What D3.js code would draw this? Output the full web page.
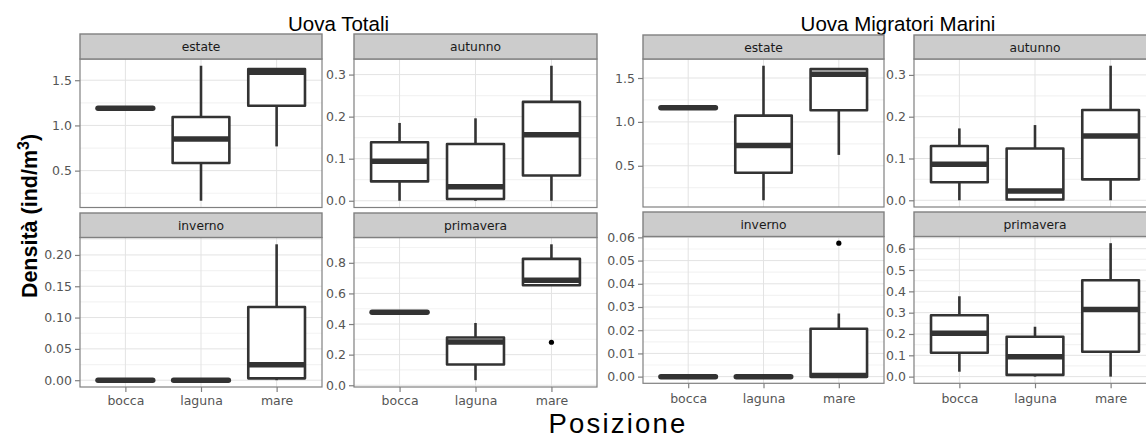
<!DOCTYPE html>
<html><head><meta charset="utf-8">
<script src="https://cdn.jsdelivr.net/npm/d3@7"></script>
<style>body{margin:0;background:#fff}svg{display:block}</style>
</head><body><svg id="c" width="1146" height="439"></svg>
<script>
// ---------------- DATA ----------------
const categories = ["bocca", "laguna", "mare"];
const seasons = ["estate", "autunno", "inverno", "primavera"];
const groupTitles = ["Uova Totali", "Uova Migratori Marini"];
const xTitle = "Posizione";
// box stats per category: [lower whisker, q1, median, q3, upper whisker]
const totaliEstate    = [[1.19,1.19,1.19,1.19,1.19],[0.167,0.584,0.85,1.093,1.66],[0.768,1.218,1.587,1.624,1.624]];
const totaliAutunno   = [[0,0.046,0.094,0.139,0.185],[0,0.004,0.033,0.135,0.196],[0,0.06,0.157,0.235,0.321]];
const totaliInverno   = [[0,0,0,0,0],[0,0,0,0,0],[0,0.003,0.0245,0.117,0.217]];
const totaliPrimavera = [[0.477,0.477,0.477,0.477,0.477],[0.033,0.136,0.283,0.312,0.407],[0.653,0.653,0.686,0.826,0.921]];
const totaliOutliers  = {primavera: [[], [], [0.281]]};
const migratoriEstate    = [[1.16,1.16,1.16,1.16,1.16],[0.107,0.421,0.731,1.072,1.64],[0.624,1.133,1.544,1.601,1.601]];
const migratoriAutunno   = [[0,0.043,0.086,0.13,0.172],[0,0.002,0.022,0.124,0.18],[0,0.05,0.154,0.216,0.322]];
const migratoriInverno   = [[0,0,0,0,0],[0,0,0,0,0],[0,0,0.0005,0.0206,0.0272]];
const migratoriPrimavera = [[0.023,0.112,0.203,0.288,0.377],[0,0.008,0.093,0.187,0.234],[0,0.117,0.315,0.452,0.626]];
const migratoriOutliers  = {inverno: [[], [], [0.0575]]};
// y tick values per panel
const totaliTicks = {estate:[0.5,1.0,1.5], autunno:[0,0.1,0.2,0.3], inverno:[0,0.05,0.10,0.15,0.20], primavera:[0,0.2,0.4,0.6,0.8]};
const migratoriTicks = {estate:[0.5,1.0,1.5], autunno:[0,0.1,0.2,0.3], inverno:[0,0.01,0.02,0.03,0.04,0.05,0.06], primavera:[0,0.1,0.2,0.3,0.4,0.5,0.6]};
const tickDecimals = {estate:1, autunno:1, primavera:1, totaliInverno:2, migratoriInverno:2};

// ---------------- LAYOUT ----------------
const groups = [
  {title: groupTitles[0], titleX: 338.5,
   data: {estate: totaliEstate, autunno: totaliAutunno, inverno: totaliInverno, primavera: totaliPrimavera},
   outliers: totaliOutliers, ticks: totaliTicks, key: "totali", xPad: 4,
   cols: [[80, 322], [354, 597]],
   rows: [{strip:[34,59], plot:[59,207.5]}, {strip:[213,237.5], plot:[237.5,387]}]},
  {title: groupTitles[1], titleX: 898,
   data: {estate: migratoriEstate, autunno: migratoriAutunno, inverno: migratoriInverno, primavera: migratoriPrimavera},
   outliers: migratoriOutliers, ticks: migratoriTicks, key: "migratori", xPad: 6,
   cols: [[643, 884], [914, 1156]],
   rows: [{strip:[35,59], plot:[59,207]}, {strip:[212,236.5], plot:[236.5,383.3]}]}
];

const svg = d3.select("#c");
const INK = "#333333", GRID = "#e3e3e3", GRIDMINOR = "#f3f3f3", BORDER = "#808080";
const tickFont = "'DejaVu Sans', sans-serif";

groups.forEach(g => {
  svg.append("text").attr("x", g.titleX).attr("y", 30.5).attr("text-anchor", "middle")
    .style("font-family", "'Liberation Sans', Arial, sans-serif").style("font-size", "20.5px").attr("fill", "#000")
    .text(g.title);

  seasons.forEach((s, si) => {
    const r = g.rows[Math.floor(si / 2)], c = g.cols[si % 2];
    const stats = g.data[s];
    const outs = (g.outliers[s]) || [[], [], []];
    let vals = [];
    stats.forEach((d, i) => { vals.push(...d, ...outs[i]); });
    const lo = d3.min(vals), hi = d3.max(vals), pad = (hi - lo) * 0.05;
    const y = d3.scaleLinear().domain([lo - pad, hi + pad]).range([r.plot[1], r.plot[0]]);
    const x = d3.scalePoint().domain(categories).range(c).padding(0.6);
    const bw = x.step() * 0.75;
    const pg = svg.append("g");
    const w = c[1] - c[0], h = r.plot[1] - r.plot[0];

    pg.append("rect").attr("x", c[0]).attr("y", r.plot[0]).attr("width", w).attr("height", h).attr("fill", "#fff");
    const ticks = g.ticks[s];
    const step = ticks[1] - ticks[0];
    const minor = [];
    for (let v = ticks[0] - step / 2; v <= ticks[ticks.length - 1] + step; v += step) minor.push(v);
    const dom = y.domain();
    pg.selectAll(".mn").data(minor.filter(v => v > dom[0] && v < dom[1])).enter().append("line")
      .attr("x1", c[0]).attr("x2", c[1]).attr("y1", d => y(d)).attr("y2", d => y(d))
      .attr("stroke", GRIDMINOR).attr("stroke-width", 1.2);
    pg.selectAll(".mj").data(ticks).enter().append("line")
      .attr("x1", c[0]).attr("x2", c[1]).attr("y1", d => y(d)).attr("y2", d => y(d))
      .attr("stroke", GRID).attr("stroke-width", 1);
    pg.selectAll(".vx").data(categories).enter().append("line")
      .attr("x1", d => x(d)).attr("x2", d => x(d)).attr("y1", r.plot[0]).attr("y2", r.plot[1])
      .attr("stroke", GRID).attr("stroke-width", 1);

    // boxes
    categories.forEach((cat, i) => {
      const [wl, q1, md, q3, wh] = stats[i];
      const cx = x(cat);
      if (wh > q3) pg.append("line").attr("x1", cx).attr("x2", cx).attr("y1", y(wh)).attr("y2", y(q3)).attr("stroke", INK).attr("stroke-width", 2.6);
      if (wl < q1) pg.append("line").attr("x1", cx).attr("x2", cx).attr("y1", y(q1)).attr("y2", y(wl)).attr("stroke", INK).attr("stroke-width", 2.6);
      const p = d3.path();
      p.moveTo(cx - bw / 2, y(q3)); p.lineTo(cx + bw / 2, y(q3)); p.lineTo(cx + bw / 2, y(q1)); p.lineTo(cx - bw / 2, y(q1)); p.closePath();
      pg.append("path").attr("d", p.toString()).attr("fill", "#fff").attr("stroke", INK).attr("stroke-width", 2.6).attr("stroke-linejoin", "round");
      const flat = q3 - q1 === 0;
      pg.append("line").attr("x1", cx - bw / 2 + (flat ? 1 : 0)).attr("x2", cx + bw / 2 - (flat ? 1 : 0)).attr("y1", y(md)).attr("y2", y(md))
        .attr("stroke", INK).attr("stroke-width", 5.5).attr("stroke-linecap", flat ? "round" : "butt");
      outs[i].forEach(o => pg.append("circle").attr("cx", cx).attr("cy", y(o)).attr("r", 2.6).attr("fill", "#000"));
    });

    pg.append("rect").attr("x", c[0]).attr("y", r.plot[0]).attr("width", w).attr("height", h)
      .attr("fill", "none").attr("stroke", BORDER).attr("stroke-width", 1.2);

    // strip
    pg.append("rect").attr("x", c[0]).attr("y", r.strip[0]).attr("width", w).attr("height", r.strip[1] - r.strip[0])
      .attr("fill", "#cccccc").attr("stroke", BORDER).attr("stroke-width", 1.4);
    pg.append("text").attr("x", (c[0] + c[1]) / 2).attr("y", (r.strip[0] + r.strip[1]) / 2 + 4.5)
      .attr("text-anchor", "middle").style("font-family", tickFont).style("font-size", "12.3px").attr("fill", "#1a1a1a").text(s);

    // y axis
    const dec = s === "inverno" ? tickDecimals[g.key + "Inverno"] : tickDecimals[s];
    const ya = pg.append("g").attr("transform", `translate(${c[0]},0)`)
      .call(d3.axisLeft(y).tickValues(ticks).tickSize(5).tickPadding(3).tickFormat(d3.format("." + dec + "f")));
    ya.select(".domain").remove();
    ya.selectAll("line").attr("stroke", BORDER).attr("stroke-width", 1.2);
    ya.selectAll("text").style("font-family", tickFont).style("font-size", "12.5px").attr("fill", "#555");

    if (si >= 2) {
      const xa = pg.append("g").attr("transform", `translate(0,${r.plot[1]})`)
        .call(d3.axisBottom(x).tickSize(5).tickPadding(g.xPad));
      xa.select(".domain").remove();
      xa.selectAll("line").attr("stroke", BORDER).attr("stroke-width", 1.2);
      xa.selectAll("text").style("font-family", tickFont).style("font-size", "12.5px").attr("fill", "#555");
    }
  });
});

// y axis title
const yl = svg.append("text").attr("transform", "translate(37,216) rotate(-90)").attr("text-anchor", "middle")
  .style("font-family", "'Liberation Sans', Arial, sans-serif").style("font-size", "21.5px").style("font-weight", "bold").attr("fill", "#000");
yl.append("tspan").text("Densità (ind/m");
yl.append("tspan").attr("dy", -8).style("font-size", "16px").text("3");
yl.append("tspan").attr("dy", 8).text(")");

svg.append("text").attr("x", 618).attr("y", 433.3).attr("text-anchor", "middle")
  .style("font-family", "'Liberation Sans', Arial, sans-serif").style("font-size", "27.5px").style("letter-spacing", "2.2px")
  .attr("fill", "#000").text(xTitle);
</script></body></html>
